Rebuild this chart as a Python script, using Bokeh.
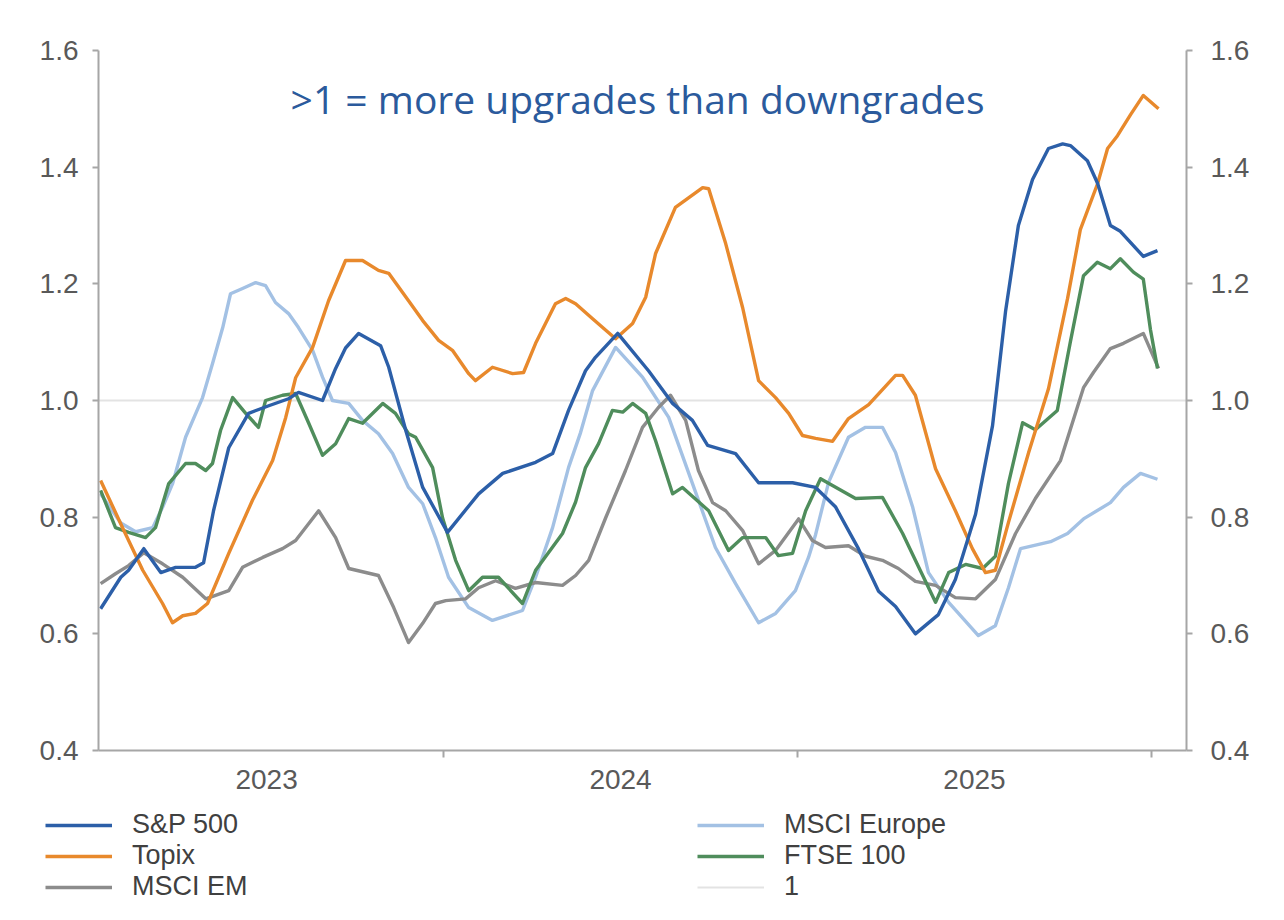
import numpy as np
from bokeh.plotting import figure
from bokeh.layouts import column
from bokeh.models import (Range1d, LinearAxis, FixedTicker, PrintfTickFormatter,
                          NumeralTickFormatter, Legend, LegendItem, Label)
from bokeh.embed import file_html
from bokeh.resources import INLINE

# ---------------- data (decimal years, ratio of upgrades to downgrades) -------------
spx_t = [2023.031, 2023.088, 2023.110, 2023.153, 2023.201, 2023.243, 2023.299, 2023.322, 2023.350, 2023.393,
         2023.449, 2023.506, 2023.562, 2023.590, 2023.658, 2023.695, 2023.723, 2023.760, 2023.822, 2023.845,
         2023.893, 2023.941, 2024.011, 2024.099, 2024.167, 2024.260, 2024.308, 2024.353, 2024.401, 2024.429,
         2024.492, 2024.579, 2024.647, 2024.703, 2024.746, 2024.825, 2024.890, 2024.986, 2025.051, 2025.107,
         2025.172, 2025.229, 2025.277, 2025.333, 2025.398, 2025.446, 2025.503, 2025.551, 2025.588, 2025.624,
         2025.664, 2025.709, 2025.749, 2025.771, 2025.819, 2025.848, 2025.884, 2025.912, 2025.977, 2026.017]
spx_v = [0.643, 0.697, 0.709, 0.746, 0.705, 0.714, 0.714, 0.722, 0.811, 0.919,
         0.978, 0.991, 1.003, 1.014, 1.000, 1.055, 1.090, 1.115, 1.094, 1.057,
         0.949, 0.851, 0.774, 0.840, 0.875, 0.894, 0.909, 0.983, 1.051, 1.074,
         1.115, 1.051, 0.995, 0.966, 0.923, 0.909, 0.859, 0.859, 0.851, 0.818,
         0.746, 0.673, 0.647, 0.600, 0.633, 0.693, 0.805, 0.957, 1.154, 1.300,
         1.379, 1.432, 1.440, 1.437, 1.411, 1.372, 1.300, 1.290, 1.247, 1.257]

topix_t = [2023.031, 2023.093, 2023.150, 2023.206, 2023.234, 2023.263, 2023.299, 2023.333, 2023.393, 2023.460,
           2023.517, 2023.554, 2023.582, 2023.630, 2023.675, 2023.723, 2023.771, 2023.816, 2023.845, 2023.901,
           2023.941, 2023.986, 2024.025, 2024.071, 2024.090, 2024.138, 2024.195, 2024.226, 2024.260, 2024.316,
           2024.345, 2024.373, 2024.421, 2024.486, 2024.534, 2024.571, 2024.599, 2024.655, 2024.732, 2024.749,
           2024.797, 2024.845, 2024.890, 2024.938, 2024.975, 2025.014, 2025.051, 2025.099, 2025.144, 2025.201,
           2025.277, 2025.297, 2025.333, 2025.390, 2025.446, 2025.494, 2025.531, 2025.559, 2025.596, 2025.653,
           2025.709, 2025.763, 2025.799, 2025.848, 2025.876, 2025.904, 2025.941, 2025.977, 2026.020]
topix_v = [0.863, 0.782, 0.709, 0.652, 0.619, 0.631, 0.635, 0.652, 0.738, 0.829,
           0.897, 0.971, 1.039, 1.091, 1.171, 1.240, 1.240, 1.223, 1.218, 1.171,
           1.137, 1.103, 1.086, 1.046, 1.034, 1.057, 1.046, 1.048, 1.098, 1.166,
           1.175, 1.166, 1.140, 1.106, 1.132, 1.177, 1.252, 1.331, 1.365, 1.363,
           1.269, 1.159, 1.034, 1.005, 0.978, 0.940, 0.935, 0.930, 0.969, 0.993,
           1.043, 1.043, 1.009, 0.883, 0.811, 0.746, 0.705, 0.709, 0.791, 0.911,
           1.020, 1.175, 1.293, 1.372, 1.432, 1.454, 1.490, 1.523, 1.500]

eur_t = [2023.031, 2023.088, 2023.130, 2023.178, 2023.206, 2023.234, 2023.271, 2023.319, 2023.347, 2023.376,
         2023.398, 2023.432, 2023.469, 2023.497, 2023.525, 2023.562, 2023.590, 2023.630, 2023.658, 2023.686,
         2023.732, 2023.771, 2023.816, 2023.856, 2023.901, 2023.941, 2023.977, 2024.014, 2024.071, 2024.138,
         2024.223, 2024.260, 2024.308, 2024.353, 2024.387, 2024.421, 2024.486, 2024.562, 2024.636, 2024.703,
         2024.768, 2024.825, 2024.890, 2024.938, 2024.994, 2025.031, 2025.051, 2025.088, 2025.144, 2025.192,
         2025.240, 2025.277, 2025.325, 2025.370, 2025.427, 2025.511, 2025.559, 2025.596, 2025.630, 2025.715,
         2025.763, 2025.808, 2025.884, 2025.921, 2025.969, 2026.017]
eur_v = [0.840, 0.790, 0.775, 0.782, 0.817, 0.857, 0.937, 1.005, 1.063, 1.125,
         1.183, 1.192, 1.202, 1.197, 1.168, 1.149, 1.125, 1.086, 1.040, 1.000,
         0.995, 0.966, 0.943, 0.909, 0.851, 0.823, 0.765, 0.697, 0.645, 0.623,
         0.640, 0.697, 0.782, 0.885, 0.945, 1.017, 1.091, 1.040, 0.971, 0.858,
         0.748, 0.686, 0.619, 0.635, 0.674, 0.731, 0.770, 0.860, 0.937, 0.954,
         0.954, 0.911, 0.818, 0.705, 0.654, 0.597, 0.614, 0.679, 0.746, 0.758,
         0.772, 0.797, 0.825, 0.851, 0.875, 0.865]

ftse_t = [2023.031, 2023.073, 2023.110, 2023.158, 2023.186, 2023.223, 2023.271, 2023.299, 2023.328, 2023.347,
          2023.370, 2023.404, 2023.441, 2023.477, 2023.497, 2023.545, 2023.582, 2023.619, 2023.658, 2023.695,
          2023.732, 2023.771, 2023.828, 2023.864, 2023.901, 2023.921, 2023.969, 2023.997, 2024.034, 2024.071,
          2024.110, 2024.155, 2024.223, 2024.260, 2024.336, 2024.373, 2024.401, 2024.438, 2024.477, 2024.506,
          2024.534, 2024.571, 2024.599, 2024.647, 2024.675, 2024.749, 2024.805, 2024.845, 2024.910, 2024.946,
          2024.986, 2025.023, 2025.065, 2025.164, 2025.240, 2025.297, 2025.333, 2025.390, 2025.427, 2025.475,
          2025.523, 2025.559, 2025.596, 2025.636, 2025.672, 2025.734, 2025.771, 2025.808, 2025.847, 2025.884,
          2025.912, 2025.949, 2025.977, 2025.997, 2026.017]
ftse_v = [0.846, 0.782, 0.774, 0.765, 0.782, 0.857, 0.892, 0.892, 0.880, 0.892,
          0.949, 1.005, 0.978, 0.954, 1.000, 1.009, 1.012, 0.961, 0.906, 0.926,
          0.969, 0.961, 0.995, 0.978, 0.943, 0.937, 0.885, 0.799, 0.726, 0.674,
          0.697, 0.697, 0.652, 0.709, 0.772, 0.826, 0.885, 0.926, 0.983, 0.980,
          0.995, 0.978, 0.931, 0.840, 0.851, 0.811, 0.743, 0.765, 0.765, 0.734,
          0.738, 0.811, 0.866, 0.832, 0.834, 0.772, 0.726, 0.654, 0.705, 0.719,
          0.712, 0.733, 0.858, 0.962, 0.950, 0.983, 1.101, 1.214, 1.237, 1.226,
          1.243, 1.220, 1.208, 1.122, 1.055]

em_t = [2023.031, 2023.073, 2023.110, 2023.153, 2023.206, 2023.263, 2023.328, 2023.393, 2023.432, 2023.489,
        2023.545, 2023.582, 2023.647, 2023.695, 2023.732, 2023.816, 2023.859, 2023.901, 2023.941, 2023.977,
        2024.006, 2024.062, 2024.099, 2024.147, 2024.203, 2024.260, 2024.336, 2024.373, 2024.410, 2024.458,
        2024.514, 2024.562, 2024.607, 2024.641, 2024.684, 2024.720, 2024.760, 2024.797, 2024.845, 2024.890,
        2024.938, 2025.003, 2025.042, 2025.079, 2025.144, 2025.192, 2025.240, 2025.285, 2025.333, 2025.390,
        2025.446, 2025.503, 2025.559, 2025.616, 2025.672, 2025.743, 2025.808, 2025.836, 2025.884, 2025.921,
        2025.977, 2026.020]
em_v = [0.686, 0.703, 0.717, 0.739, 0.720, 0.697, 0.660, 0.674, 0.714, 0.731,
        0.746, 0.760, 0.811, 0.765, 0.712, 0.700, 0.645, 0.585, 0.618, 0.652,
        0.657, 0.660, 0.679, 0.691, 0.678, 0.688, 0.683, 0.700, 0.726, 0.799,
        0.880, 0.954, 0.988, 1.009, 0.966, 0.880, 0.825, 0.811, 0.777, 0.720,
        0.743, 0.797, 0.760, 0.748, 0.751, 0.733, 0.726, 0.712, 0.690, 0.683,
        0.662, 0.660, 0.693, 0.772, 0.832, 0.897, 1.022, 1.048, 1.089, 1.098,
        1.115, 1.055]

series_names = ["S&P 500", "Topix", "MSCI EM", "MSCI Europe", "FTSE 100", "1"]
y_ticks = [0.4, 0.6, 0.8, 1.0, 1.2, 1.4, 1.6]
year_labels = ["2023", "2024", "2025"]
year_mid = [2023.5, 2024.5, 2025.5]
year_bounds = [2024.0, 2025.0, 2026.0]
x_start, x_end = 2023.025, 2026.099
ref_level = 1.0
note = ">1 = more upgrades than downgrades"

# ---------------- styling -------------
C_SPX = "#2c5fa8"
C_TOPIX = "#e8892c"
C_EM = "#8c8c8c"
C_EUR = "#a3c1e4"
C_FTSE = "#4f8d5c"
C_ONE = "#e3e3e3"
AXIS_C = "#a6a6a6"
TICK_TXT = "#595959"
FONT = "Liberation Sans"
LW = 3.4

p = figure(width=1268, height=804, output_backend="svg", toolbar_location=None,
           x_range=Range1d(x_start, x_end), y_range=Range1d(0.4, 1.6),
           min_border_left=98, min_border_right=82, min_border_top=50, min_border_bottom=54,
           background_fill_color="white", border_fill_color="white")
p.outline_line_color = None
p.xgrid.visible = False
p.ygrid.visible = False
p.frame_align = False

# reference line and series
r_one = p.line([x_start, x_end], [ref_level, ref_level], line_color=C_ONE, line_width=2)
r_eur = p.line(eur_t, eur_v, line_color=C_EUR, line_width=LW, line_join="round")
r_em = p.line(em_t, em_v, line_color=C_EM, line_width=LW, line_join="round")
r_ftse = p.line(ftse_t, ftse_v, line_color=C_FTSE, line_width=LW, line_join="round")
r_topix = p.line(topix_t, topix_v, line_color=C_TOPIX, line_width=LW, line_join="round")
r_spx = p.line(spx_t, spx_v, line_color=C_SPX, line_width=LW, line_join="round")

# y axes
yl = p.yaxis[0]
yr = LinearAxis()
p.add_layout(yr, "right")
for ax in (yl, yr):
    ax.ticker = FixedTicker(ticks=y_ticks)
    ax.formatter = NumeralTickFormatter(format="0.0")
    ax.axis_line_color = AXIS_C
    ax.axis_line_width = 2
    ax.major_tick_line_color = AXIS_C
    ax.major_tick_line_width = 2
    ax.major_tick_in = 0
    ax.major_tick_out = 6
    ax.minor_tick_line_color = None
    ax.major_label_text_font = FONT
    ax.major_label_text_font_size = "28px"
    ax.major_label_text_color = TICK_TXT
yl.major_label_standoff = 14
yr.major_label_standoff = 18

# x axis
xa = p.xaxis[0]
xa.ticker = FixedTicker(ticks=year_mid, minor_ticks=year_bounds)
xa.formatter = PrintfTickFormatter(format="%d")
xa.major_label_overrides = {m: lab for m, lab in zip(year_mid, year_labels)}
xa.axis_line_color = AXIS_C
xa.axis_line_width = 2
xa.major_tick_line_color = None
xa.major_tick_in = 0
xa.major_tick_out = 0
xa.minor_tick_line_color = AXIS_C
xa.minor_tick_line_width = 2
xa.minor_tick_in = 0
xa.minor_tick_out = 7
xa.major_label_standoff = 12
xa.major_label_text_font = FONT
xa.major_label_text_font_size = "28px"
xa.major_label_text_color = TICK_TXT

# annotation
p.add_layout(Label(x=2024.548, y=1.518, text=note, text_align="center", text_baseline="middle",
                   text_font="Open Sans", text_font_size="39px", text_color="#2b5a9c"))

# ---------------- legend panel (separate strip below the chart) -------------
lf = figure(width=1268, height=100, output_backend="svg", toolbar_location=None,
            x_range=Range1d(0, 1), y_range=Range1d(0, 1),
            x_axis_location=None, y_axis_location=None,
            min_border_left=0, min_border_right=0, min_border_top=0, min_border_bottom=0,
            background_fill_color="white", border_fill_color="white")
lf.outline_line_color = None
lf.xgrid.visible = False
lf.ygrid.visible = False
lf.frame_align = False
styles = [(C_SPX, LW), (C_TOPIX, LW), (C_EM, LW), (C_EUR, LW), (C_FTSE, LW), (C_ONE, 2)]
items = []
for name, (col, lw) in zip(series_names, styles):
    # invisible proxy (NaN) line, only used to draw the legend key
    r = lf.line(x=np.array([np.nan]), y=np.array([np.nan]), line_color=col, line_width=lw)
    items.append(LegendItem(label=name, renderers=[r]))
leg = Legend(items=items, location=(45, 2), orientation="vertical", nrows=3,
             label_text_font=FONT, label_text_font_size="27px", label_text_color="#404040",
             glyph_width=67, glyph_height=26, label_height=26, label_width=565,
             label_standoff=20, spacing=0, padding=0, margin=0,
             border_line_color=None, background_fill_alpha=0)
lf.add_layout(leg)

layout = column(p, lf, spacing=0)
open("out.html", "w").write(file_html(layout, INLINE))
